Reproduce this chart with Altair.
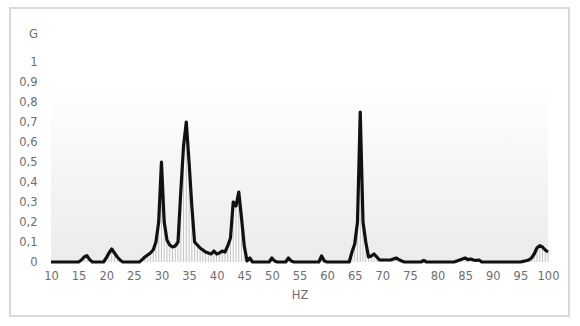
import altair as alt
import pandas as pd

# Frequency grid (Hz) at 0.5 Hz steps from 10 to 100
hz = [10 + 0.5 * i for i in range(181)]

# Acceleration (G), 10 values per 5 Hz
g = (
    [0, 0, 0, 0, 0, 0, 0, 0, 0, 0] +                                  # 10.0-14.5
    [0, 0.01, 0.025, 0.032, 0.012, 0, 0, 0, 0, 0] +                   # 15.0-19.5
    [0.02, 0.045, 0.065, 0.045, 0.025, 0.01, 0, 0, 0, 0] +            # 20.0-24.5
    [0, 0, 0, 0.012, 0.025, 0.035, 0.045, 0.06, 0.1, 0.2] +           # 25.0-29.5
    [0.5, 0.2, 0.11, 0.085, 0.075, 0.08, 0.1, 0.35, 0.58, 0.7] +      # 30.0-34.5
    [0.5, 0.28, 0.1, 0.085, 0.07, 0.06, 0.05, 0.045, 0.04, 0.055] +   # 35.0-39.5
    [0.04, 0.045, 0.055, 0.05, 0.08, 0.12, 0.3, 0.28, 0.35, 0.22] +   # 40.0-44.5
    [0.08, 0.005, 0.02, 0, 0, 0, 0, 0, 0, 0] +                        # 45.0-49.5
    [0.02, 0.005, 0, 0, 0, 0, 0.02, 0.005, 0, 0] +                    # 50.0-54.5
    [0, 0, 0, 0, 0, 0, 0, 0, 0.03, 0.005] +                           # 55.0-59.5
    [0, 0, 0, 0, 0, 0, 0, 0, 0, 0.05] +                               # 60.0-64.5
    [0.09, 0.2, 0.75, 0.2, 0.1, 0.025, 0.03, 0.04, 0.025, 0.01] +     # 65.0-69.5
    [0.01, 0.01, 0.01, 0.01, 0.015, 0.02, 0.012, 0.005, 0, 0] +       # 70.0-74.5
    [0, 0, 0, 0, 0, 0.008, 0, 0, 0, 0] +                              # 75.0-79.5
    [0, 0, 0, 0, 0, 0, 0, 0.005, 0.01, 0.015] +                       # 80.0-84.5
    [0.02, 0.012, 0.015, 0.01, 0.008, 0.01, 0, 0, 0, 0] +             # 85.0-89.5
    [0, 0, 0, 0, 0, 0, 0, 0, 0, 0] +                                  # 90.0-94.5
    [0, 0.003, 0.006, 0.01, 0.02, 0.04, 0.07, 0.082, 0.075, 0.06] +   # 95.0-99.5
    [0.05]                                                            # 100
)

x_ticks = list(range(10, 101, 5))
y_ticks = [round(0.1 * i, 1) for i in range(11)]

df = pd.DataFrame({"hz": hz, "g": g})
one = pd.DataFrame({"k": [0]})

FONT = "DejaVu Sans"
GREY = "#6e6e6e"
FS = 11.5

x_scale = alt.Scale(domain=[10, 100], nice=False, zero=False)
y_scale = alt.Scale(domain=[0, 1], nice=False)

x_axis = alt.Axis(
    values=x_ticks, title="HZ", grid=False, domain=False, ticks=False,
    labelPadding=8, labelOverlap=False, labelBound=False, labelFlush=False,
    labelFont=FONT, labelFontSize=FS, labelColor=GREY,
    titleFont=FONT, titleFontSize=FS, titleColor=GREY, titleFontWeight="normal",
    titleY=33, titleBaseline="middle",
)
y_axis = alt.Axis(
    values=y_ticks, title="G", grid=False, domain=False, ticks=False,
    labelPadding=14, labelOverlap=False, labelBound=False, labelFlush=False,
    labelFont=FONT, labelFontSize=FS, labelColor=GREY,
    labelExpr="replace(format(datum.value, '.1~f'), '.', ',')",
    titleFont=FONT, titleFontSize=FS, titleColor=GREY, titleFontWeight="normal",
    titleAngle=0, titleX=-18, titleY=-28, titleAlign="center",
    titleBaseline="middle",
)

x_enc = alt.X("hz:Q", scale=x_scale, axis=x_axis)
y_enc = alt.Y("g:Q", scale=y_scale, axis=y_axis)

bg = alt.Chart(one).mark_rect(
    color=alt.Gradient(
        gradient="linear",
        stops=[alt.GradientStop(color="#ffffff", offset=0),
               alt.GradientStop(color="#ebebeb", offset=1)],
        x1=0, x2=0, y1=0, y2=1,
    )
).encode(
    x=alt.XDatum(10, type="quantitative", scale=x_scale, axis=x_axis),
    x2=alt.datum(100),
    y=alt.YDatum(0.885, type="quantitative", scale=y_scale, axis=y_axis),
    y2=alt.datum(0),
)

area = alt.Chart(df).mark_area(color="#fafafa", opacity=1).encode(x=x_enc, y=y_enc)

hatch = alt.Chart(df).mark_rule(color="#b8b8b8", strokeWidth=0.8).encode(
    x=x_enc, y=y_enc, y2=alt.datum(0)
)

line = alt.Chart(df).mark_line(color="#111111", strokeWidth=3.2, strokeJoin="round").encode(
    x=x_enc, y=y_enc
)

border = alt.Chart(one).mark_rect(
    filled=False, stroke="#d9d9d9", strokeWidth=2
).encode(x=alt.value(-41), x2=alt.value(518), y=alt.value(-54), y2=alt.value(254))

chart = alt.layer(bg, area, hatch, line, border).properties(
    width=497, height=200,
    autosize=alt.AutoSizeParams(type="none"),
    padding={"left": 51, "top": 62, "right": 32, "bottom": 64},
    background="white",
).configure_view(stroke=None)

chart.save("out.html", embed_options={"renderer": "svg", "actions": False})
